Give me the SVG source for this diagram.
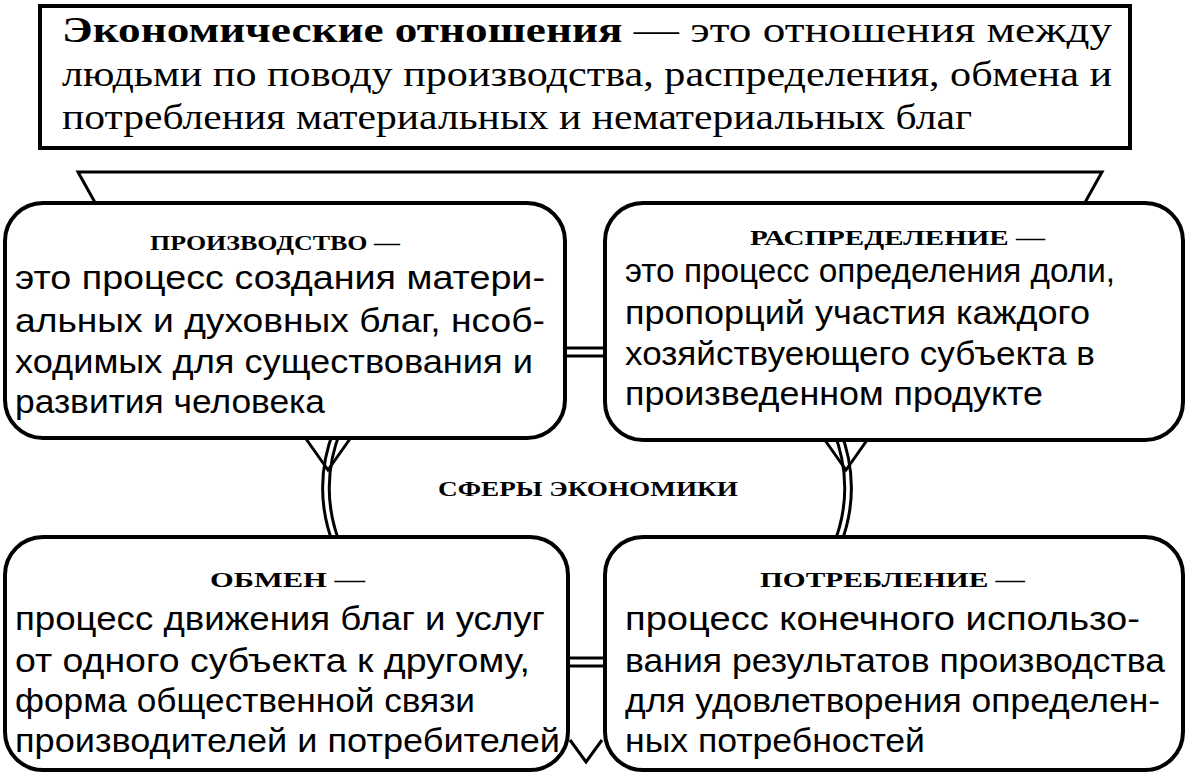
<svg xmlns="http://www.w3.org/2000/svg" width="1188" height="780" viewBox="0 0 1188 780">
<style>
.box{fill:#fff;stroke:#000;stroke-width:4}
.ln{fill:none;stroke:#000;stroke-width:3}
.t{font-family:"Liberation Sans",Arial,sans-serif;font-size:33px;fill:#000}
.h{font-family:"Liberation Serif","Times New Roman",serif;font-size:22px;font-weight:bold;fill:#000}
.ti{font-family:"Liberation Serif","Times New Roman",serif;font-size:35px;fill:#000}
.b{font-weight:bold}
</style>
<rect width="1188" height="780" fill="#fff"/>
<g id="connectors">
<path class="ln" d="M334,430 A265,200 0 0 0 334,546"/>
<path class="ln" d="M341,430 A257,194 0 0 0 341,546"/>
<path class="ln" d="M840,430 A265,200 0 0 1 840,546"/>
<path class="ln" d="M833,430 A257,194 0 0 1 833,546"/>
<polyline class="ln" points="102,215 78,172 1102,172 1078,215"/>
<polyline class="ln" points="304,436 328,470 352,436"/>
<polyline class="ln" points="822,436 846,470 870,436"/>
<polyline class="ln" points="570,740 586,762 602,740"/>
<line class="ln" x1="560" y1="348" x2="610" y2="348"/><line class="ln" x1="560" y1="356" x2="610" y2="356"/>
<line class="ln" x1="560" y1="658" x2="610" y2="658"/><line class="ln" x1="560" y1="666" x2="610" y2="666"/>
</g>
<g id="title">
<rect class="box" x="40" y="6" width="1090" height="142" stroke-width="5"/>
<text class="ti" x="62" y="42" textLength="1050" lengthAdjust="spacingAndGlyphs"><tspan class="b">Экономические отношения</tspan> — это отношения между</text>
<text class="ti" x="62" y="86" textLength="1050" lengthAdjust="spacingAndGlyphs">людьми по поводу производства, распределения, обмена и</text>
<text class="ti" x="62" y="129" textLength="910" lengthAdjust="spacingAndGlyphs">потребления материальных и нематериальных благ</text>
</g>
<g id="center"><text class="h" x="588" y="496" text-anchor="middle" textLength="300" lengthAdjust="spacingAndGlyphs">СФЕРЫ ЭКОНОМИКИ</text></g>
<g id="production">
<rect class="box" x="5" y="203" width="560" height="235" rx="38"/>
<text class="h" x="150" y="250" textLength="250" lengthAdjust="spacingAndGlyphs">ПРОИЗВОДСТВО —</text>
<text class="t" x="15" y="289" textLength="530" lengthAdjust="spacingAndGlyphs">это процесс создания матери-</text>
<text class="t" x="15" y="332" textLength="530" lengthAdjust="spacingAndGlyphs">альных и духовных благ, нсоб-</text>
<text class="t" x="15" y="373" textLength="518" lengthAdjust="spacingAndGlyphs">ходимых для существования и</text>
<text class="t" x="15" y="413" textLength="310" lengthAdjust="spacingAndGlyphs">развития человека</text>
</g>
<g id="distribution">
<rect class="box" x="605" y="203" width="578" height="237" rx="38"/>
<text class="h" x="750" y="245" textLength="295" lengthAdjust="spacingAndGlyphs">РАСПРЕДЕЛЕНИЕ —</text>
<text class="t" x="625" y="282" textLength="490" lengthAdjust="spacingAndGlyphs">это процесс определения доли,</text>
<text class="t" x="625" y="324" textLength="465" lengthAdjust="spacingAndGlyphs">пропорций участия каждого</text>
<text class="t" x="625" y="365" textLength="470" lengthAdjust="spacingAndGlyphs">хозяйствуеющего субъекта в</text>
<text class="t" x="625" y="405" textLength="418" lengthAdjust="spacingAndGlyphs">произведенном продукте</text>
</g>
<g id="exchange">
<rect class="box" x="5" y="537" width="563" height="233" rx="38"/>
<text class="h" x="210" y="587" textLength="155" lengthAdjust="spacingAndGlyphs">ОБМЕН —</text>
<text class="t" x="15" y="630" textLength="530" lengthAdjust="spacingAndGlyphs">процесс движения благ и услуг</text>
<text class="t" x="15" y="672" textLength="515" lengthAdjust="spacingAndGlyphs">от одного субъекта к другому,</text>
<text class="t" x="15" y="712" textLength="460" lengthAdjust="spacingAndGlyphs">форма общественной связи</text>
<text class="t" x="15" y="752" textLength="545" lengthAdjust="spacingAndGlyphs">производителей и потребителей</text>
</g>
<g id="consumption">
<rect class="box" x="605" y="537" width="578" height="233" rx="38"/>
<text class="h" x="760" y="587" textLength="265" lengthAdjust="spacingAndGlyphs">ПОТРЕБЛЕНИЕ —</text>
<text class="t" x="625" y="630" textLength="515" lengthAdjust="spacingAndGlyphs">процесс конечного использо-</text>
<text class="t" x="625" y="672" textLength="540" lengthAdjust="spacingAndGlyphs">вания результатов производства</text>
<text class="t" x="625" y="712" textLength="535" lengthAdjust="spacingAndGlyphs">для удовлетворения определен-</text>
<text class="t" x="625" y="752" textLength="300" lengthAdjust="spacingAndGlyphs">ных потребностей</text>
</g>
</svg>
